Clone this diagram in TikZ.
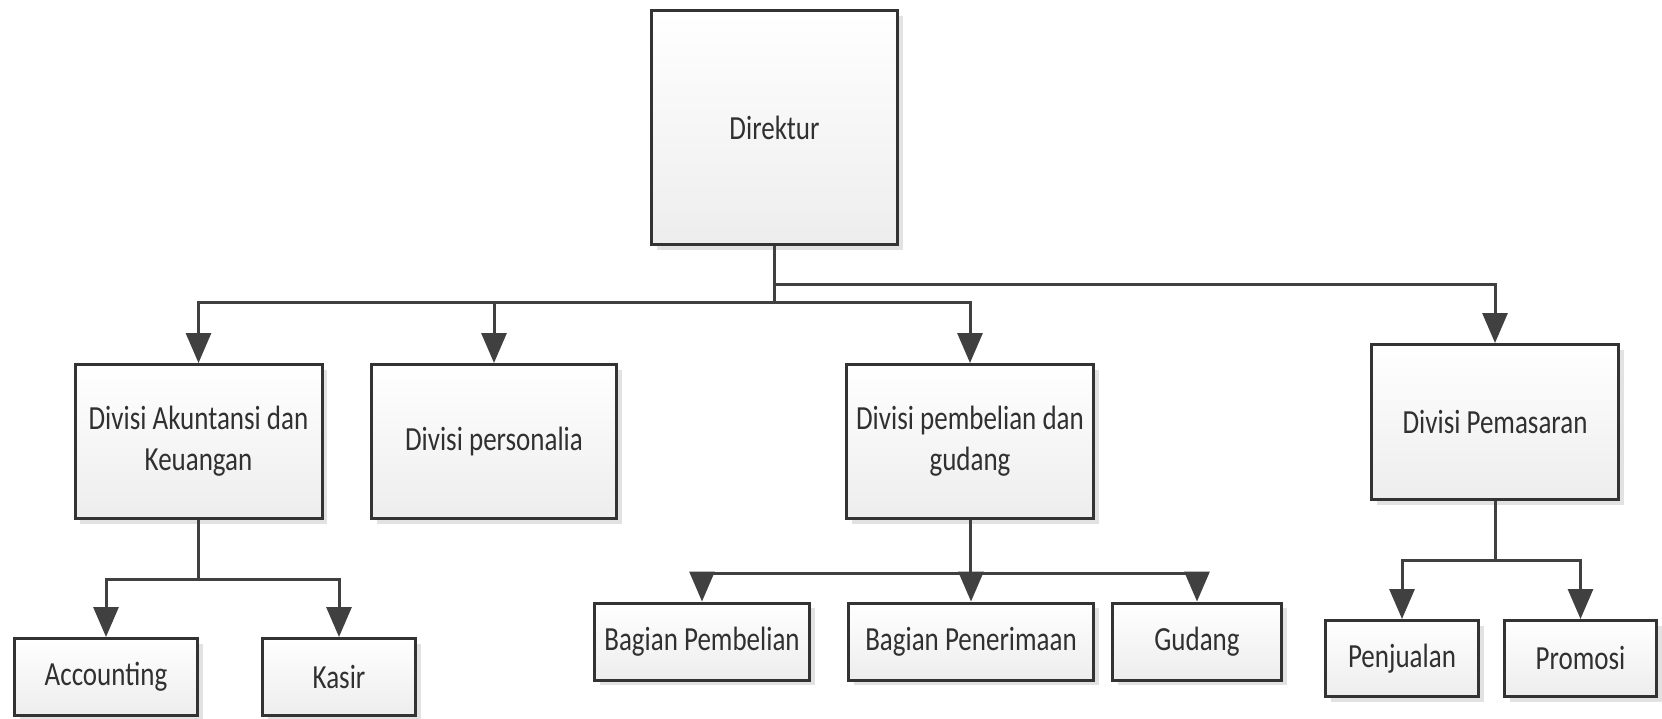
\documentclass[tikz,border=0pt]{standalone}
\usepackage{fontspec}
\setmainfont{Carlito}
\usepackage{graphicx}
\usetikzlibrary{arrows.meta,shadows}
\newcommand\vst[1]{\scalebox{1}[1.25]{#1}}
\definecolor{ln}{HTML}{404040}
\definecolor{bd}{HTML}{333333}
\definecolor{sh}{HTML}{E2E2E2}
\definecolor{tx}{HTML}{303030}
\tikzset{
  orgbox/.style={draw=bd, line width=3pt, rectangle, top color=white, bottom color=black!7,
    inner sep=0pt, align=center, text=tx, font=\fontsize{27}{41}\selectfont,
    general shadow={fill=sh, shadow xshift=5pt, shadow yshift=-5pt}},
  link/.style={draw=ln, line width=3pt},
  arr/.style={link, -{Triangle[length=30pt,width=25pt]}},
}
\begin{document}
\begin{tikzpicture}[x=1pt,y=-1pt]
\useasboundingbox[fill=white] (0,0) rectangle (1662,718);
% boxes
\node[orgbox, minimum width=246pt, minimum height=234pt] (dir) at (774.5,127.5) {\vst{Direktur}};
\node[orgbox, minimum width=247pt, minimum height=154pt] (aku) at (198.5,441.5) {\vst{Divisi Akuntansi dan}\\\vst{Keuangan}};
\node[orgbox, minimum width=245pt, minimum height=154pt] (per) at (494,441.5) {\vst{Divisi personalia}};
\node[orgbox, minimum width=247pt, minimum height=154pt] (pem) at (970,441.5) {\vst{Divisi pembelian dan}\\\vst{gudang}};
\node[orgbox, minimum width=247pt, minimum height=155pt] (pms) at (1495,422) {\vst{Divisi Pemasaran}};
\node[orgbox, minimum width=183pt, minimum height=77pt] (acc) at (106,677) {\vst{Accounting}};
\node[orgbox, minimum width=153pt, minimum height=77pt] (kas) at (339,677) {\vst{Kasir}};
\node[orgbox, minimum width=215pt, minimum height=77pt] (bpb) at (702,641.5) {\vst{Bagian Pembelian}};
\node[orgbox, minimum width=245pt, minimum height=77pt] (bpn) at (971,641.5) {\vst{Bagian Penerimaan}};
\node[orgbox, minimum width=169pt, minimum height=77pt] (gud) at (1197,641.5) {\vst{Gudang}};
\node[orgbox, minimum width=153pt, minimum height=76pt] (pjl) at (1402,658.5) {\vst{Penjualan}};
\node[orgbox, minimum width=152pt, minimum height=76pt] (prm) at (1580.5,658.5) {\vst{Promosi}};
% connectors
\coordinate (j1) at (774.5,302);
\coordinate (j2) at (774.5,284);
\draw[link] (dir.south) -- (j1);
\draw[arr] (j1) -| (aku.north);
\draw[arr] (j1) -| (per.north);
\draw[arr] (j1) -| (pem.north);
\draw[arr] (j2) -| (pms.north);
\coordinate (k1) at (198.5,579);
\draw[link] (aku.south) -- (k1);
\draw[arr] (k1) -| (acc.north);
\draw[arr] (k1) -| (kas.north);
\coordinate (k2) at (970,573);
\draw[link] (pem.south) -- (k2);
\draw[arr] (k2) -| (bpb.north);
\draw[arr] (k2) -| (bpn.north);
\draw[arr] (k2) -| (gud.north);
\coordinate (k3) at (1495,560);
\draw[link] (pms.south) -- (k3);
\draw[arr] (k3) -| (pjl.north);
\draw[arr] (k3) -| (prm.north);
\end{tikzpicture}
\end{document}
